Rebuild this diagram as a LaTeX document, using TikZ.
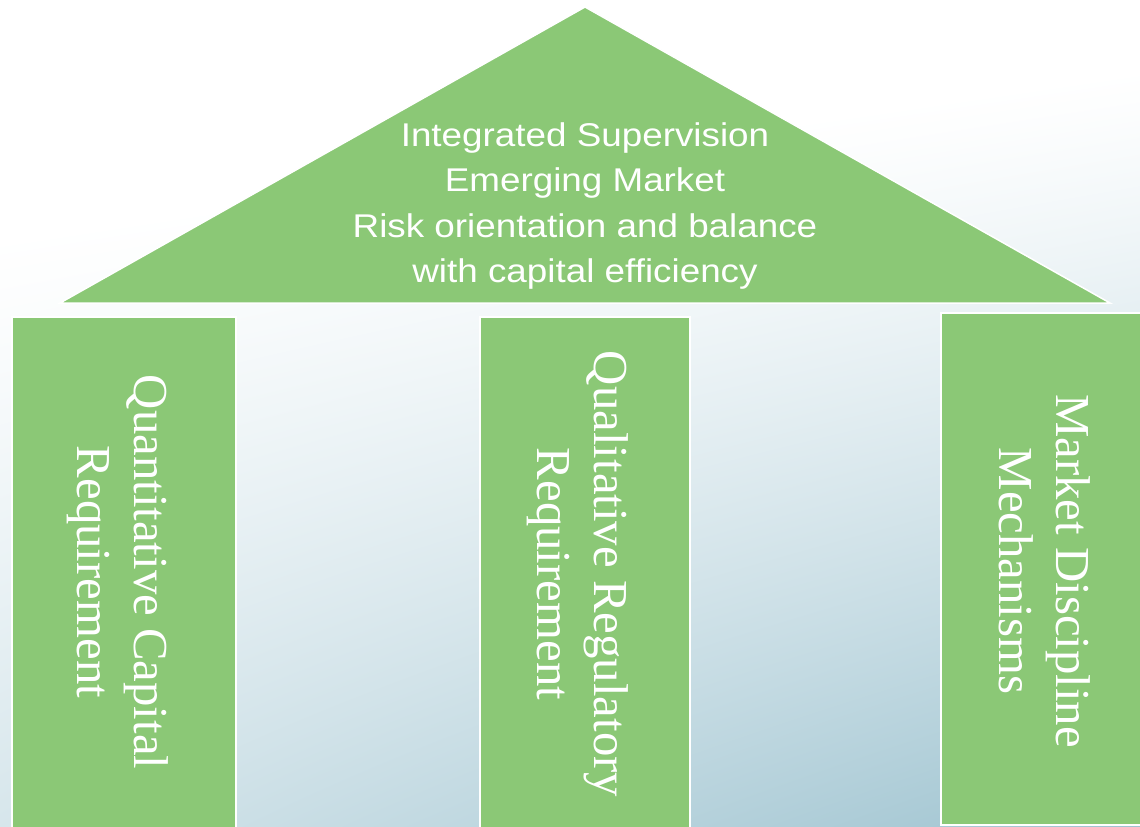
\documentclass[tikz,border=0pt]{standalone}
\usepackage{fontspec}
\setmainfont{Liberation Serif}
\newfontfamily\roofsans[FakeStretch=1.12]{Liberation Sans}
\definecolor{pillargreen}{RGB}{139,200,118}

% Soft wall behind the temple: white at the top left, blue-grey towards the bottom right
\pgfdeclarefunctionalshading{wallshade}{\pgfpoint{0bp}{0bp}}{\pgfpoint{1140bp}{827bp}}{}{
  exch dup 1140 div
  dup 0.2 mul 0.72 add
  4 -1 roll
  827 div exch div
  1 exch sub dup abs add 2 div 1.2 exp
  exch 0.58 mul 0.42 add mul
  exch pop
  dup 0.38 mul 1 exch sub
  exch dup 0.235 mul 1 exch sub
  exch 0.184 mul 1 exch sub
}

\begin{document}
\begin{tikzpicture}[x=1bp,y=-1bp,
  block/.style={fill=pillargreen, draw=white, line width=1.5bp},
  rooftext/.style={text=white, align=center, inner sep=0pt,
    font=\roofsans\fontsize{33}{45.5}\selectfont},
  pillartext/.style={text=white, align=center, inner sep=0pt, rotate=-90,
    font=\fontsize{49}{57.5}\selectfont}]
\useasboundingbox (0,0) rectangle (1140,827);
\node[inner sep=0pt, outer sep=0pt, anchor=north west] (bg) at (0,0) {\pgfuseshading{wallshade}};

% roof
\draw[block] (60,303) -- (585,7) -- (1110,303) -- cycle;
\node[rooftext] (aims) at (585,206) {Integrated Supervision\\Emerging Market\\Risk orientation and balance\\with capital efficiency};

% pillars
\draw[block] (12,317) rectangle (236,835);
\draw[block] (480,317) rectangle (690,835);
\draw[block] (941,313) rectangle (1145,825);

\node[pillartext] (qcr) at (118,572) {Quantitative Capital\\Requirement};
\node[pillartext] (qrr) at (578,574) {Qualitative Regulatory\\Requirement};
\node[pillartext] (mdm) at (1045,571) {Market Discipline\\Mechanisms};
\end{tikzpicture}
\end{document}
